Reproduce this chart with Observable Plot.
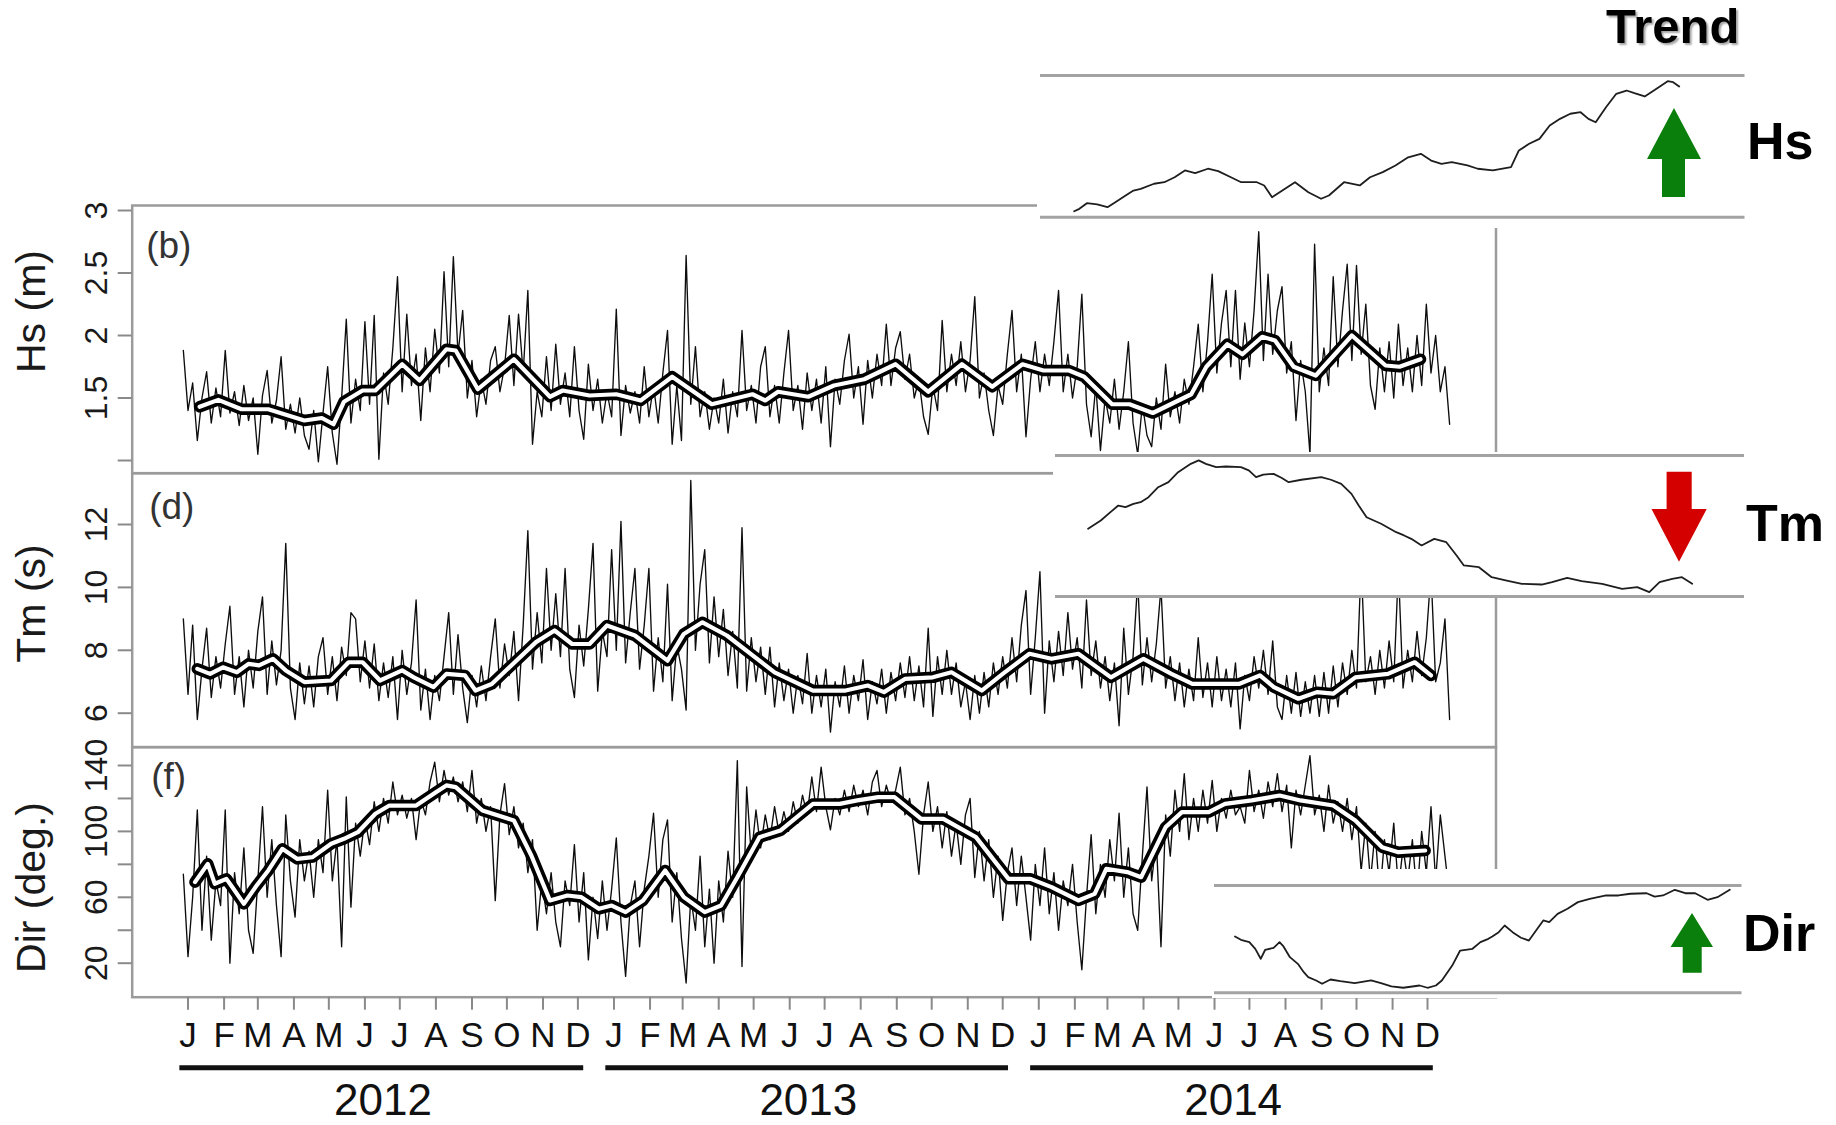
<!DOCTYPE html>
<html>
<head>
<meta charset="utf-8">
<script src="https://cdn.jsdelivr.net/npm/d3@7"></script>
<script src="https://cdn.jsdelivr.net/npm/@observablehq/plot@0.6"></script>
<style>
  body { margin: 0; background: #fff; }
  #root { position: relative; width: 1836px; height: 1125px; overflow: hidden; background: #fff;
          font-family: "Liberation Sans", Arial, Helvetica, sans-serif; }
  #root svg { position: absolute; }
  .lbl { position: absolute; font-weight: bold; color: #000; white-space: nowrap; line-height: 1;
         font-family: "Liberation Sans", Arial, Helvetica, sans-serif; }
</style>
</head>
<body>
<div id="root"></div>
<script>
// ---------------- DATA ----------------
// samples every 4 days, first sample on day -4 relative to 2012-01-01
const noiseStartDay = -4;
const noiseStepDays = 4;

const hsNoise = [
  1.88,1.40,1.62,1.16,1.50,1.71,1.30,1.58,1.35,1.88,
  1.38,1.55,1.28,1.60,1.32,1.50,1.05,1.52,1.72,1.30,
  1.48,1.83,1.25,1.45,1.22,1.50,1.20,1.09,1.40,0.99,
  1.38,1.75,1.22,0.97,1.50,2.13,1.30,1.65,1.40,2.11,
  1.45,2.16,1.01,1.70,1.45,1.90,2.47,1.55,2.17,1.60,
  1.85,1.32,1.90,1.55,2.05,1.70,2.51,1.75,2.63,1.85,
  2.20,1.50,1.80,1.35,1.65,1.45,1.80,1.91,1.55,1.75,
  2.16,1.60,2.17,1.70,2.36,1.13,1.55,1.35,1.83,1.40,
  1.93,1.45,1.70,1.35,1.91,1.40,1.17,1.77,1.40,1.65,
  1.30,1.55,1.35,2.21,1.20,1.60,1.38,1.55,1.30,1.75,
  1.35,1.60,1.30,1.70,2.04,1.13,1.60,1.16,2.64,1.45,
  1.91,1.35,1.55,1.25,1.50,1.30,1.65,1.22,1.55,1.35,
  2.04,1.40,1.60,1.30,1.75,1.91,1.35,1.60,1.30,1.70,
  2.04,1.40,1.60,1.25,1.70,1.40,1.65,1.30,1.75,1.11,
  1.65,1.45,1.80,2.01,1.50,1.75,1.29,1.80,1.50,1.85,
  1.60,2.09,1.60,1.90,2.03,1.65,1.85,1.50,1.65,1.35,
  1.21,1.60,1.40,2.12,1.55,1.85,1.60,1.95,1.55,1.80,
  2.31,1.50,1.70,1.40,1.20,1.60,1.45,1.85,2.20,1.55,
  1.85,1.19,1.65,1.95,1.55,1.85,1.60,1.95,2.36,1.55,
  1.85,1.50,1.75,2.33,1.45,1.19,1.60,1.08,1.50,1.30,
  1.65,1.25,1.55,1.95,1.30,1.05,1.45,1.20,1.11,1.50,
  1.25,1.77,1.35,1.55,1.30,1.65,1.45,1.75,2.09,1.55,
  1.95,2.49,1.70,2.10,2.36,1.75,2.36,1.65,2.10,1.75,
  2.20,2.83,1.80,2.49,1.85,2.20,2.39,1.70,1.95,1.32,
  1.80,1.55,1.05,2.73,1.55,1.90,1.60,2.47,1.75,2.20,
  2.57,1.80,2.56,1.85,2.25,1.60,1.41,1.90,1.55,1.95,
  1.50,2.09,1.60,1.90,1.55,2.00,1.60,2.25,1.70,2.00,
  1.55,1.75,1.29
];

const tmNoise = [
  9.0,6.6,8.8,5.8,7.4,8.7,6.5,7.8,6.8,8.2,
  9.4,6.6,7.8,6.2,8.0,6.8,8.6,9.7,6.6,8.3,
  6.9,8.0,11.4,6.8,5.8,7.6,6.3,7.5,6.2,7.8,
  8.4,6.6,7.8,6.4,8.1,7.2,9.2,9.0,7.0,8.3,
  6.8,8.2,6.4,7.6,6.5,7.8,5.8,8.0,6.6,7.6,
  9.6,6.1,7.4,5.8,7.2,6.4,7.8,9.2,6.6,8.5,
  6.8,5.7,7.2,6.2,7.5,6.4,7.8,9.0,6.8,8.2,
  7.2,8.6,6.4,8.8,11.8,7.4,9.2,7.6,10.6,8.0,
  9.8,7.8,10.6,7.4,6.5,8.8,7.5,9.3,11.4,6.7,
  8.6,7.8,11.2,8.0,12.1,7.6,9.2,10.6,7.4,8.8,
  10.6,6.7,8.4,7.0,10.1,6.4,8.2,7.4,6.1,13.4,
  8.0,10.1,11.2,7.6,9.7,7.8,9.3,7.2,8.6,6.8,
  11.9,6.7,8.4,7.0,8.1,6.6,8.1,6.2,7.6,6.4,
  7.4,6.0,7.2,6.3,7.9,6.0,7.2,6.2,7.4,5.4,
  7.0,6.2,7.5,6.0,7.2,6.4,7.7,5.8,7.0,6.3,
  7.4,6.0,7.3,6.4,7.6,6.5,7.8,6.4,7.5,6.2,
  8.7,5.9,7.8,6.6,8.0,6.6,7.6,6.2,7.0,5.8,
  7.2,6.0,7.3,6.2,7.6,6.6,7.8,6.8,8.4,7.0,
  8.8,9.9,6.6,8.4,10.5,6.0,8.3,7.0,8.6,7.2,
  9.2,7.4,8.4,6.8,9.6,7.2,8.3,6.8,7.8,6.4,
  7.6,5.6,8.7,6.6,7.8,10.2,6.9,8.4,7.0,8.2,
  10.0,6.8,7.8,6.4,7.6,6.2,7.4,6.4,8.4,6.5,
  7.6,6.2,7.8,6.4,7.4,6.2,7.6,5.5,7.2,6.4,
  7.8,6.8,8.0,6.6,8.3,6.2,5.8,7.2,6.0,7.3,
  5.9,7.0,6.0,7.2,5.9,7.3,6.0,7.5,6.2,7.6,
  6.6,8.0,6.8,10.8,7.0,7.8,6.6,8.0,6.8,8.3,
  7.0,10.6,6.8,8.0,7.0,8.6,7.2,8.4,10.5,7.0,
  7.6,9.0,5.8
];

const dirNoise = [
  74,24,60,113,40,85,34,70,55,113,
  20,75,50,90,40,26,70,115,60,95,
  55,24,110,70,48,95,70,88,60,95,
  75,125,70,95,30,121,54,105,85,108,
  92,118,100,120,105,130,110,122,108,120,
  95,120,110,130,142,118,137,122,133,118,
  130,112,137,105,120,100,115,58,110,129,
  98,115,90,105,75,95,40,70,50,75,
  45,30,70,55,92,45,75,22,60,35,
  70,40,65,96,45,12,55,70,30,65,
  85,111,60,95,107,45,75,35,8,60,
  40,85,30,65,20,70,45,88,60,143,
  18,127,85,113,90,110,95,115,98,112,
  100,118,105,122,110,133,112,139,115,101,
  120,110,125,112,128,115,125,110,130,137,
  115,128,118,125,139,110,120,100,74,110,
  130,100,115,90,112,85,105,80,110,120,
  72,100,70,95,60,85,46,75,90,55,
  85,60,34,80,55,90,50,75,40,70,
  55,80,45,16,60,98,50,80,60,95,
  70,111,60,90,50,40,85,127,70,95,
  30,110,85,125,100,135,95,120,100,125,
  105,131,100,120,108,125,110,115,105,137,
  112,125,108,130,115,135,112,128,90,125,
  110,128,146,110,122,100,128,105,118,100,
  120,95,115,76,105,70,100,60,95,75,
  105,65,90,70,95,60,100,75,115,70,
  110,85,60
];

// smoothed (running-mean) curves: day offset from 2012-01-01 and value
const hsSmoothDay = [10,26,46,69,100,115,125,134,150,161,184,199,222,230,249,280,311,322,345,368,389,416,450,485,496,507,533,555,581,608,636,665,691,717,735,757,770,794,809,829,862,875,893,906,923,934,950,969,1000,1029,1041,1059];
const hsSmooth    = [1.43,1.485,1.41,1.41,1.32,1.34,1.29,1.47,1.56,1.56,1.77,1.64,1.89,1.88,1.57,1.81,1.51,1.56,1.52,1.53,1.48,1.67,1.45,1.53,1.48,1.55,1.51,1.60,1.65,1.77,1.55,1.77,1.59,1.77,1.72,1.72,1.67,1.45,1.45,1.38,1.53,1.75,1.93,1.85,1.99,1.96,1.75,1.68,2.00,1.76,1.75,1.81];

const tmSmoothDay = [8,19,30,42,52,61,73,84,100,123,138,150,165,184,194,211,222,238,247,261,299,315,330,345,360,384,412,426,442,463,491,504,537,565,584,598,616,640,656,682,700,723,742,765,793,821,845,863,886,903,921,933,954,970,984,1003,1031,1054,1068];
const tmSmooth    = [7.41,7.25,7.46,7.30,7.57,7.52,7.73,7.36,6.99,7.04,7.62,7.62,7.04,7.36,7.14,6.83,7.25,7.20,6.72,6.93,8.26,8.63,8.20,8.20,8.79,8.47,7.67,8.52,8.89,8.47,7.67,7.30,6.72,6.72,6.88,6.67,7.09,7.14,7.30,6.72,7.25,7.89,7.73,7.89,7.14,7.73,7.25,6.93,6.93,6.93,7.20,6.83,6.46,6.67,6.62,7.14,7.25,7.62,7.20];

const dirSmoothDay = [6,17,23,33,38,48,58,69,81,94,107,123,134,146,161,173,196,213,222,230,253,280,295,311,326,338,353,364,376,391,410,426,444,458,472,491,509,537,560,575,593,607,630,649,677,705,724,742,765,779,789,807,819,840,854,877,891,914,938,956,984,1003,1026,1040,1063];
const dirSmooth    = [69.2,80.3,68.2,71.2,66.2,56.0,66.2,76.3,89.4,83.3,84.4,92.5,95.5,99.5,110.7,115.7,115.7,123.8,127.9,126.9,112.7,106.6,85.4,58.1,61.1,60.1,53.0,55.0,51.0,58.1,76.3,60.1,51.0,55.0,72.2,96.5,100.5,116.7,116.7,118.8,120.8,120.8,107.6,107.6,96.5,71.2,71.2,66.2,58.1,62.1,77.3,75.3,72.2,102.6,111.7,111.7,116.7,118.8,121.8,118.8,115.7,106.6,90.4,87.4,88.4];

// long-term trend curves (relative time 0-100, relative level 0-100)
const hsTrendT = [0,0.85,2.1,3.8,5.5,6.8,8.5,9.8,11.0,13.2,14.9,16.6,18.3,20.0,22.1,23.8,25.9,27.6,30.2,31.4,32.7,34.4,36.5,38.7,40.8,42.1,44.6,47.2,48.9,51.0,53.1,55.2,57.3,59.0,60.7,62.4,65.0,66.7,69.2,72.2,73.5,75.2,76.9,78.6,80.3,82.0,83.7,85.0,86.2,87.9,89.6,91.3,92.6,94.3,96.0,98.1,99.0,100];
const hsTrend  = [4.2,5.9,9.9,9.0,7.1,10.6,15.3,18.8,20.0,23.6,24.7,28.2,33.0,31.1,34.2,32.5,28.2,24.7,24.7,22.4,14.1,18.8,24.7,17.6,13.0,15.3,24.7,22.4,28.2,31.8,36.5,42.3,44.7,40.0,37.7,38.8,36.5,34.2,33.0,35.3,47.1,51.8,55.3,64.7,69.4,73.0,74.1,69.4,67.0,77.6,87.1,89.4,87.5,85.2,89.9,96.0,95.3,92.2];
const tmTrendT = [0,2.1,3.7,5.0,6.2,7.5,8.7,10.0,11.6,13.3,14.9,17.0,18.3,19.5,21.2,22.8,25.3,26.6,27.8,29.0,30.7,32.0,33.2,35.3,38.6,40.2,41.9,43.6,44.8,46.1,48.5,51.0,52.3,53.5,55.2,57.3,59.3,61.0,62.2,64.7,66.8,69.3,71.8,75.1,76.8,79.3,81.7,85.1,88.4,90.9,92.9,94.6,96.7,98.3,100];
const tmTrend  = [48.0,53.9,59.8,64.5,63.4,65.7,66.9,70.4,77.5,81.1,88.2,94.1,96.5,94.1,91.7,92.2,91.7,89.4,84.6,86.5,87.0,84.2,81.1,82.8,84.6,82.8,79.9,72.8,64.5,56.2,51.6,45.6,43.3,40.9,36.2,40.9,38.5,29.1,22.0,20.8,13.7,11.3,9.0,8.5,10.2,13.2,10.9,9.0,5.4,6.6,3.1,10.2,12.5,13.7,9.0];
const dirTrendT = [0,1.2,2.9,4.1,5.2,6.1,7.8,9.0,9.8,11.1,12.7,13.9,14.8,16.4,17.6,19.3,21.3,24.2,27.5,29.5,31.6,34.0,37.3,38.9,40.6,41.8,43.9,45.5,48.0,49.6,51.2,52.0,53.3,54.5,56.1,57.8,59.4,61.1,62.3,63.5,65.2,67.2,69.3,71.7,75.0,77.5,79.9,83.2,84.8,86.5,88.9,91.0,93.0,95.5,97.5,100];
const dirTrend  = [52.5,49.4,47.2,41.0,31.7,40.1,41.9,47.2,43.2,33.2,27.0,19.2,14.6,11.5,8.4,12.4,10.8,9.0,11.5,9.0,5.9,4.7,6.8,4.7,6.8,11.5,25.4,39.4,41.0,47.2,50.3,52.5,56.5,62.7,56.5,51.3,48.7,59.6,67.4,65.8,73.6,78.3,84.5,87.6,90.7,90.7,92.3,92.8,89.7,90.7,96.0,92.8,92.8,86.7,89.1,96.0];

// axis ticks / labels
const hsTicks  = [1, 1.5, 2, 2.5, 3];
const hsTickLabels = ["", "1.5", "2", "2.5", "3"];
const tmTicks  = [6, 8, 10, 12];
const dirTicks = [20, 40, 60, 80, 100, 120, 140];
const dirTickLabels = ["20", "", "60", "", "100", "", "140"];
const monthLetters = ["J","F","M","A","M","J","J","A","S","O","N","D"];
const years = [2012, 2013, 2014];
const panelLetters = ["(b)", "(d)", "(f)"];
const panelTitles = ["Hs (m)", "Tm (s)", "Dir (deg.)"];
const trendNames = ["Hs", "Tm", "Dir"];

// ---------------- HELPERS ----------------
const DAY = 864e5;
const T0 = Date.UTC(2012, 0, 1);
const toDate = d => new Date(T0 + d * DAY);
const noiseRows = arr => arr.map((v, i) => ({date: toDate(noiseStartDay + i * noiseStepDays), v}));
const smoothRows = (days, vals) => days.map((d, i) => ({date: toDate(d), v: vals[i]}));
const trendRows = (ts, vs) => ts.map((t, i) => ({t, v: vs[i]}));
const monthDates = years.flatMap(y => monthLetters.map((_, m) => new Date(Date.UTC(y, m, 1))));

const W = 1836;
const FRAME_L = 131.7, FRAME_R = 1495.5;
const xScale = {type: "utc", domain: [new Date(T0), new Date(Date.UTC(2014, 11, 1))], range: [187.5, 1427]};
const FONT = "Liberation Sans, Arial, Helvetica, sans-serif";
const root = document.getElementById("root");

function place(el, left, top) {
  el.style.left = left + "px";
  el.style.top = top + "px";
  root.appendChild(el);
}

function panel(o) {
  const frameH = o.bottom - o.top;
  const mt = o.top - o.svgTop;
  const height = Math.round(mt + frameH + o.mb);
  const mb = height - mt - frameH;
  const marks = [
    Plot.frame({stroke: "#9b9b9b", strokeWidth: 2.5}),
    Plot.line(noiseRows(o.noise), {x: "date", y: "v", stroke: "#0d0d0d", strokeWidth: 1.35}),
    Plot.line(smoothRows(o.sDay, o.sVal), {x: "date", y: "v", stroke: "#000", strokeWidth: 11.5, strokeLinejoin: "round", strokeLinecap: "round"}),
    Plot.line(smoothRows(o.sDay, o.sVal), {x: "date", y: "v", stroke: "#fff", strokeWidth: 4.2, strokeLinejoin: "round", strokeLinecap: "round"}),
    Plot.axisY({ticks: o.ticks, tickFormat: (d, i) => o.tickLabels[i], tickRotate: -90, tickSize: 14, tickPadding: 11,
                fontSize: 32, stroke: "#8a8a8a", strokeWidth: 2, fill: "#1a1a1a", label: null}),
    Plot.text([o.letter], {frameAnchor: "top-left", dx: o.letterDx, dy: o.letterDy, fontSize: 37, fill: "#333",
                textAnchor: "start", lineAnchor: "top"}),
    Plot.text([o.title], {frameAnchor: "left", rotate: -90, dx: 31 - FRAME_L, dy: o.titleDy, fontSize: 41, fill: "#1a1a1a",
                textAnchor: "middle", lineAnchor: "middle"})
  ];
  if (o.xAxis) {
    marks.push(Plot.axisX({ticks: monthDates, tickFormat: d => monthLetters[d.getUTCMonth()], tickSize: 13, tickPadding: 12,
                fontSize: 35, stroke: "#8a8a8a", strokeWidth: 2, fill: "#111", label: null}));
  }
  const svg = Plot.plot({
    width: W, height,
    marginLeft: FRAME_L, marginRight: W - FRAME_R, marginTop: mt, marginBottom: mb,
    x: {...xScale, axis: o.xAxis ? undefined : null},
    y: {domain: o.yDomain, range: [o.yPix[0] - o.svgTop, o.yPix[1] - o.svgTop]},
    style: {background: "transparent", fontFamily: FONT, overflow: "visible"},
    marks
  });
  place(svg, 0, o.svgTop);
}

// Hs panel
panel({svgTop: 195, top: 205, bottom: 472.7, mb: 10, yDomain: [1, 3], yPix: [460, 210],
  ticks: hsTicks, tickLabels: hsTickLabels, noise: hsNoise, sDay: hsSmoothDay, sVal: hsSmooth,
  letter: panelLetters[0], letterDx: 14, letterDy: 26, title: panelTitles[0], titleDy: 311 - (205 + 472.7) / 2});
// Tm panel
panel({svgTop: 463, top: 472.7, bottom: 746.6, mb: 10, yDomain: [6, 12], yPix: [712.7, 524],
  ticks: tmTicks, tickLabels: tmTicks.map(String), noise: tmNoise, sDay: tmSmoothDay, sVal: tmSmooth,
  letter: panelLetters[1], letterDx: 17, letterDy: 20, title: panelTitles[1], titleDy: 603 - (472.7 + 746.6) / 2});
// Dir panel
panel({svgTop: 737, top: 746.7, bottom: 996.7, mb: 60, yDomain: [20, 140], yPix: [962.7, 765],
  ticks: dirTicks, tickLabels: dirTickLabels, noise: dirNoise, sDay: dirSmoothDay, sVal: dirSmooth,
  letter: panelLetters[2], letterDx: 19, letterDy: 16, title: panelTitles[2], titleDy: 887 - (746.7 + 996.7) / 2, xAxis: true});

// Year bars and labels
{
  const svg = Plot.plot({
    width: W, height: 75, marginLeft: 0, marginRight: 0, marginTop: 0, marginBottom: 0,
    x: {...xScale, axis: null},
    y: {domain: [0, 1], range: [33.5, 17.3], axis: null},
    style: {background: "transparent", fontFamily: FONT, overflow: "visible"},
    marks: [
      Plot.ruleY(years, {y: () => 1, x1: yr => new Date(Date.UTC(yr, 0, 1) - 7 * DAY), x2: yr => new Date(Date.UTC(yr, 11, 1) + 5 * DAY),
                         stroke: "#111", strokeWidth: 5}),
      Plot.text(years, {y: () => 0, x: yr => new Date((Date.UTC(yr, 0, 1) + Date.UTC(yr, 11, 1)) / 2), text: yr => String(yr),
                        fontSize: 44, fill: "#111", lineAnchor: "top"})
    ]
  });
  place(svg, 0, 1050);
}

// Trend insets
function inset(o) {
  const svg = Plot.plot({
    width: o.width, height: o.height,
    marginTop: o.mt, marginBottom: o.mb, marginLeft: o.ml, marginRight: o.mr,
    x: {domain: [0, 100], range: o.tRange, axis: null},
    y: {domain: [0, 100], axis: null},
    style: {background: "#fff", fontFamily: FONT, overflow: "visible"},
    marks: [
      Plot.ruleY([0, 100], {stroke: "#a3a3a3", strokeWidth: 3}),
      Plot.line(trendRows(o.T, o.V), {x: "t", y: "v", stroke: "#1e1e1e", strokeWidth: 1.8})
    ]
  });
  place(svg, o.left, o.top);
}
inset({left: 1037, top: 65, width: 710, height: 163, mt: 10, mb: 11.3, ml: 3, mr: 2.5, tRange: [36.7, 641.7], T: hsTrendT, V: hsTrend});
inset({left: 1053, top: 452, width: 697, height: 146, mt: 3, mb: 2, ml: 2, mr: 6, tRange: [34.6, 638.7], T: tmTrendT, V: tmTrend});
inset({left: 1212, top: 869, width: 538, height: 129, mt: 16, mb: 5.7, ml: 2, mr: 8.5, tRange: [22.5, 517.3], T: dirTrendT, V: dirTrend});

// Trend arrows (decorations)
{
  const ns = "http://www.w3.org/2000/svg";
  const svg = document.createElementNS(ns, "svg");
  svg.setAttribute("width", W); svg.setAttribute("height", 1125);
  svg.style.pointerEvents = "none";
  const arrows = [
    {fill: "#0b7f0b", pts: "1674,108 1701,159 1685,159 1685,197 1662,197 1662,159 1647,159"},
    {fill: "#d40000", pts: "1666.6,471.7 1691.7,471.7 1691.7,509 1706.7,509 1679,561.7 1651.5,509 1666.6,509"},
    {fill: "#0b7f0b", pts: "1692,913 1713,947 1701.7,947 1701.7,972.7 1682.7,972.7 1682.7,947 1670.5,947"}
  ];
  for (const a of arrows) {
    const p = document.createElementNS(ns, "polygon");
    p.setAttribute("points", a.pts); p.setAttribute("fill", a.fill);
    svg.appendChild(p);
  }
  place(svg, 0, 0);
}

// Text labels
function label(text, left, top, size, extra) {
  const d = document.createElement("div");
  d.className = "lbl";
  d.textContent = text;
  d.style.fontSize = size + "px";
  if (extra) Object.assign(d.style, extra);
  place(d, left, top);
}
label("Trend", 1606, 2, 49, {textShadow: "2px 2px 2px rgba(0,0,0,0.35)"});
label(trendNames[0], 1747, 115, 52);
label(trendNames[1], 1746, 497, 52);
label(trendNames[2], 1743, 907, 52);
</script>
</body>
</html>
